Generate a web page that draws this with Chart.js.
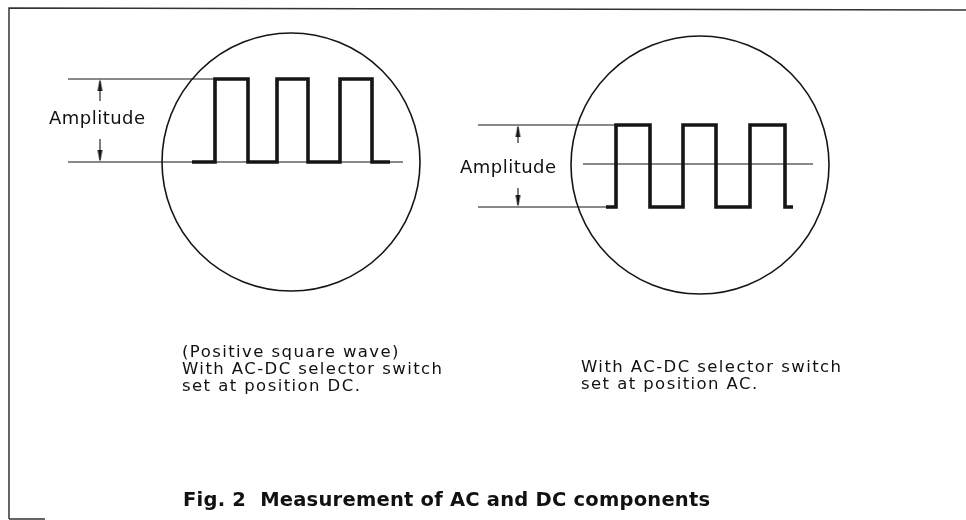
<!DOCTYPE html>
<html>
<head>
<meta charset="utf-8">
<script src="https://cdn.jsdelivr.net/npm/chart.js@4.4.1/dist/chart.umd.min.js"></script>
<style>
  html, body { margin: 0; padding: 0; background: #fff; }
  canvas { display: block; }
</style>
</head>
<body>
<canvas id="c" width="966" height="520"></canvas>
<script>
// ---- Figure data (figure-plane units, y grows downward) ----
// Left scope: positive square wave (DC coupling)
const leftWaveX   = [192, 215, 215, 248, 248, 277, 277, 308, 308, 340, 340, 372, 372, 390];
const leftWaveY   = [162, 162,  79,  79, 162, 162,  79,  79, 162, 162,  79,  79, 162, 162];
// Right scope: same wave centred on the trace axis (AC coupling)
const rightWaveX  = [606, 616, 616, 650, 650, 683, 683, 716, 716, 750, 750, 785, 785, 793];
const rightWaveY  = [207, 207, 125, 125, 207, 207, 125, 125, 207, 207, 125, 125, 207, 207];
// Scope screens: centre x, centre y
const screenX     = [291, 700];
const screenY     = [162, 165];
// Reference (extension) lines
const refLineX1   = [68, 68, 478, 478, 583];
const refLineX2   = [215, 403, 616, 606, 813];
const refLineY    = [79, 162, 125, 207, 164];
// Amplitude dimension arrows
const arrowX      = [100, 518];
const arrowTop    = [79, 125];
const arrowBottom = [162, 207];
const arrowInnerTop    = [101, 143];
const arrowInnerBottom = [139, 188];
// Texts
const ampLabel    = 'Amplitude';
const leftCaption = ['(Positive square wave)', 'With AC-DC selector switch', 'set at position DC.'];
const rightCaption= ['With AC-DC selector switch', 'set at position AC.'];
const figTitle    = 'Fig. 2  Measurement of AC and DC components';

// ---- Build datasets ----
const INK = '#151515';
const pts = (xs, ys) => xs.map((x, i) => ({ x, y: ys[i] }));
const datasets = [];

// frame
datasets.push({ data: [{x: 9, y: 519}, {x: 9, y: 8}, {x: 966, y: 10}], showLine: true, borderColor: '#333', borderWidth: 1.5, pointRadius: 0, clip: false });
datasets.push({ data: [{x: 9, y: 519}, {x: 45, y: 519}], showLine: true, borderColor: '#333', borderWidth: 1.5, pointRadius: 0, clip: false });

// scope circles
datasets.push({
  data: pts(screenX, screenY), showLine: false, clip: false,
  pointStyle: 'circle', pointRadius: 129, pointHoverRadius: 129,
  borderColor: INK, pointBorderWidth: 1.6, backgroundColor: 'rgba(0,0,0,0)'
});

// reference lines
refLineX1.forEach((x1, i) => {
  datasets.push({ data: [{x: x1, y: refLineY[i]}, {x: refLineX2[i], y: refLineY[i]}], showLine: true,
    borderColor: INK, borderWidth: 1.1, pointRadius: 0 });
});

// arrow shafts
arrowX.forEach((x, i) => {
  datasets.push({ data: [{x, y: arrowTop[i] + 2}, {x, y: arrowInnerTop[i]}], showLine: true, borderColor: INK, borderWidth: 1.1, pointRadius: 0 });
  datasets.push({ data: [{x, y: arrowInnerBottom[i]}, {x, y: arrowBottom[i] - 2}], showLine: true, borderColor: INK, borderWidth: 1.1, pointRadius: 0 });
});
// arrow heads
const arrowHead = (() => {
  const c = document.createElement('canvas'); c.width = 7; c.height = 12;
  const g = c.getContext('2d'); g.fillStyle = INK;
  g.beginPath(); g.moveTo(3.5, 0); g.lineTo(6.0, 12); g.lineTo(1.0, 12); g.closePath(); g.fill();
  return c;
})();
datasets.push({ data: arrowX.map((x, i) => ({ x, y: arrowTop[i] + 6 })), showLine: false,
  pointStyle: arrowHead, pointRotation: 0, pointRadius: 6 });
datasets.push({ data: arrowX.map((x, i) => ({ x, y: arrowBottom[i] - 6 })), showLine: false,
  pointStyle: arrowHead, pointRotation: 180, pointRadius: 6 });

// waves
datasets.push({ data: pts(leftWaveX, leftWaveY), showLine: true, borderColor: INK, borderWidth: 3.6,
  pointRadius: 0, borderJoinStyle: 'miter', borderCapStyle: 'butt', tension: 0 });
datasets.push({ data: pts(rightWaveX, rightWaveY), showLine: true, borderColor: INK, borderWidth: 3.6,
  pointRadius: 0, borderJoinStyle: 'miter', borderCapStyle: 'butt', tension: 0 });

// ---- Text layout ----
const texts = [
  { lines: [ampLabel], x: 49, y: 119, lh: 0, font: '18px "DejaVu Sans"', fitRef: ampLabel, fitW: 96 },
  { lines: [ampLabel], x: 460, y: 168, lh: 0, font: '18px "DejaVu Sans"', fitRef: ampLabel, fitW: 96 },
  { lines: leftCaption, x: 182, y: 353, lh: 17, font: '16.5px "DejaVu Sans"', fitRef: leftCaption[1], fitW: 260 },
  { lines: rightCaption, x: 581, y: 368, lh: 17, font: '16.5px "DejaVu Sans"', fitRef: rightCaption[0], fitW: 260 },
  { lines: [figTitle], x: 183, y: 501, lh: 0, font: 'bold 19.5px "DejaVu Sans"', fitRef: figTitle, fitW: 527 }
];

const textPlugin = {
  id: 'figText',
  afterDatasetsDraw(chart) {
    const { ctx, scales: { x: sx, y: sy } } = chart;
    ctx.save();
    ctx.fillStyle = '#111';
    ctx.textBaseline = 'middle';
    ctx.textAlign = 'left';
    texts.forEach(t => {
      ctx.font = t.font;
      ctx.letterSpacing = '0px';
      const x0 = sx.getPixelForValue(t.x), x1 = sx.getPixelForValue(t.x + t.fitW);
      const w = ctx.measureText(t.fitRef).width;
      const sp = ((x1 - x0) - w) / Math.max(1, t.fitRef.length - 1);
      ctx.letterSpacing = sp.toFixed(2) + 'px';
      t.lines.forEach((line, i) => {
        ctx.fillText(line, x0, sy.getPixelForValue(t.y + i * t.lh));
      });
    });
    ctx.restore();
  }
};

new Chart(document.getElementById('c'), {
  type: 'scatter',
  data: { datasets },
  options: {
    responsive: false,
    animation: false,
    events: [],
    layout: { padding: 0, autoPadding: false },
    plugins: { legend: { display: false }, tooltip: { enabled: false }, title: { display: false } },
    scales: {
      x: { type: 'linear', min: 0, max: 966, display: false },
      y: { type: 'linear', min: 0, max: 520, reverse: true, display: false }
    },
    elements: { line: { tension: 0 } }
  },
  plugins: [textPlugin]
});
</script>
</body>
</html>
